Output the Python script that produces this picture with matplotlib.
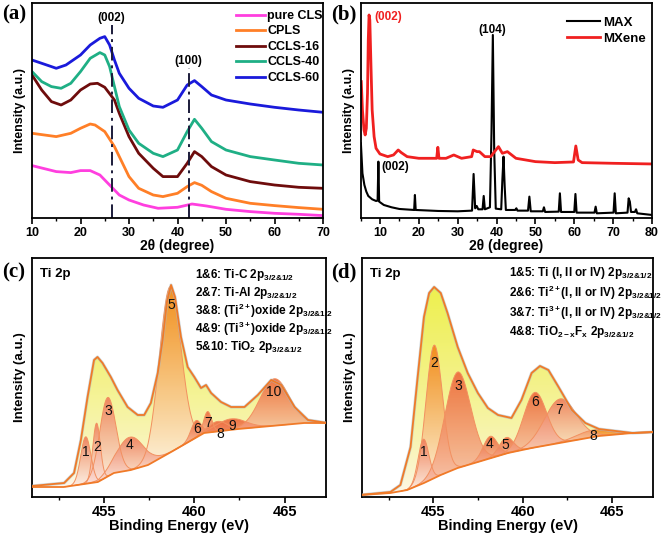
import numpy as np
import matplotlib
matplotlib.use("Agg")
import matplotlib.pyplot as plt
from matplotlib.patches import Polygon
from matplotlib.colors import to_rgba
from matplotlib.ticker import MultipleLocator
from matplotlib.mathtext import MathTextParser

plt.rcParams['font.family'] = ['Liberation Sans', 'DejaVu Sans']
plt.rcParams['font.weight'] = 'bold'
plt.rcParams['axes.labelweight'] = 'bold'
plt.rcParams['mathtext.fontset'] = 'custom'
plt.rcParams['mathtext.rm'] = 'Liberation Sans:bold'
plt.rcParams['mathtext.bf'] = 'Liberation Sans:bold'
plt.rcParams['mathtext.it'] = 'Liberation Sans:bold'
plt.rcParams['mathtext.default'] = 'rm'

# pick an ampersand form that mathtext accepts
_p = MathTextParser("agg")
AMP = "&"
for cand in [r"\&", "&", r"\text{&}", r"\mathrm{&}"]:
    try:
        _p.parse("$_{3/2" + cand + "1/2}$", 100)
        AMP = cand
        break
    except Exception:
        continue
SUB = "$_{3/2" + AMP + "1/2}$"

# ---------------- (a) XRD of the CLS samples ----------------
a_names = ["pure CLS", "CPLS", "CCLS-16", "CCLS-40", "CCLS-60"]
a_colors = ["#FF3FDF", "#FF7F27", "#6E0C0C", "#1FAF85", "#1A1ADB"]
a_x = {
    "pure CLS": [10, 15, 18, 20, 22, 24, 26, 28, 30, 33, 36, 40, 43, 46, 50, 55, 60, 65, 70],
    "CPLS": [10, 15, 18, 20, 22, 23, 25, 27, 28, 30, 32, 35, 37, 40, 42, 43.5, 45, 47, 50, 55, 60, 65, 70],
    "CCLS-16": [10, 12, 14, 16, 18, 20, 22, 23.5, 25, 27, 28, 30, 32, 35, 37, 40, 42, 43.5, 45, 47, 50, 55, 60, 65, 70],
    "CCLS-40": [10, 12, 14, 16, 18, 20, 22, 24, 25, 26, 27, 28, 30, 32, 35, 37, 40, 42, 43.5, 45, 47, 50, 55, 60, 65, 70],
    "CCLS-60": [10, 12, 14, 15, 17, 20, 22, 24, 25, 26, 27, 28, 30, 32, 35, 37, 40, 42, 43.5, 45, 47, 50, 55, 60, 65, 70],
}
a_y = {
    "pure CLS": [52.7, 46.7, 45.7, 47.7, 47.7, 43.3, 33.3, 23.3, 18.3, 13.3, 10, 11, 14.3, 12.3, 9, 6.7, 5, 4, 2.7],
    "CPLS": [85, 81.7, 85, 90, 94.3, 93.3, 86.7, 71.7, 61.7, 41.7, 30, 23.3, 21.7, 25, 31.7, 35.7, 33, 26.7, 20, 15, 12.7, 10.7, 9],
    "CCLS-16": [143.3, 128.3, 116.7, 113.3, 118.3, 128.3, 134.3, 135, 131, 118.3, 105, 81.7, 65, 50, 41.7, 41.7, 55, 66.7, 61.7, 51.7, 43.3, 36.7, 33.3, 31, 30],
    "CCLS-40": [146.7, 136.7, 131.7, 130, 135, 146.7, 160, 165.7, 163.3, 151.7, 131.7, 111.7, 88.3, 75, 65, 61.7, 68.3, 86.7, 99, 90, 76.7, 68.3, 61.7, 58.3, 55, 53.3],
    "CCLS-60": [158.3, 155, 151.7, 150, 153.3, 163.3, 173.3, 180, 181.7, 173.3, 158.3, 145, 130, 120, 112.3, 111, 118.3, 133.3, 137.7, 131.7, 123.3, 118.3, 114.3, 111, 108.3, 106],
}
a_peaks = ["(002)", "(100)"]
a_peak_x = [26.4, 42.3]
a_peak_top = [193, 150]
a_peak_label_y = [200, 157]

# ---------------- (b) XRD of MAX / MXene ----------------
max_x = [5.1, 5.5, 6.0, 6.5, 7.0, 8.0, 9.0, 9.4, 9.6, 9.8, 11, 13, 15, 18.8, 19.0, 19.2, 25, 30,
         33.7, 34.1, 34.5, 34.9, 35.3, 36.4, 36.7, 37.0, 38.3, 38.7, 39.05, 39.4, 39.8, 41.2, 41.5,
         41.8, 42.1, 42.4, 44.8, 45.1, 45.4, 48.1, 48.45, 48.8, 51.9, 52.2, 52.5, 56.0, 56.3, 56.6,
         60.0, 60.3, 60.6, 65.2, 65.5, 65.8, 70.1, 70.4, 70.7, 73.7, 74.0, 74.3, 74.6, 75.6, 75.9, 76.2, 80]
max_y = [430, 520, 555, 575, 588, 598, 603, 602, 485, 605, 615, 622, 627, 630, 585, 630, 633, 634,
         632, 522, 625, 618, 628, 628, 588, 628, 622, 400, 105, 450, 626, 628, 540,
         470, 560, 630, 630, 625, 632, 632, 590, 634, 634, 622, 636, 635, 580, 636,
         636, 582, 638, 638, 620, 640, 638, 580, 640, 638, 595, 605, 636, 636, 628, 640, 645]
mx_x = [5.2, 5.5, 5.9, 6.2, 6.5, 6.8, 7.0, 7.2, 7.4, 7.7, 8.0, 8.5, 9.0, 10, 12, 13.5, 14.7, 15.5, 17,
        20, 24.6, 24.9, 25.2, 27, 29, 31, 33.6, 34.0, 35.0, 35.6, 37, 38.5, 40.5, 41.5, 42.8, 45, 50,
        55, 59.8, 60.4, 61.0, 62, 70, 80]
mx_y = [245, 330, 390, 405, 385, 280, 120, 45, 60, 200, 330, 410, 445, 462, 470, 465, 450, 458, 470,
        475, 475, 442, 475, 475, 465, 475, 470, 450, 455, 455, 470, 470, 440, 460, 455, 475, 485,
        488, 486, 438, 480, 488, 490, 492]

# ---------------- (c) Ti 2p of MAX ----------------
c_bg_e = [451.0, 452.76, 454.65, 455.54, 456.48, 457.43, 458.71, 460.54, 462.43, 464.26, 466.09, 467.4]
c_bg_v = [10, 10, 15, 24, 27, 32, 45, 64, 68, 71, 74, 74]
c_env_e = [451.0, 452.78, 453.33, 453.71, 454.08, 454.44, 454.63, 454.91, 455.37, 455.74, 456.3, 456.86,
           457.22, 457.59, 457.97, 458.24, 458.48, 458.71, 458.93, 459.26, 459.63, 460.0, 460.37, 460.65,
           460.93, 461.48, 462.04, 462.78, 463.52, 464.26, 464.82, 465.56, 466.3, 467.4]
c_env_v = [11, 14, 24, 57, 100, 137, 140, 134, 120, 107, 90, 82, 82, 94, 124, 157, 195, 212, 200, 160,
           130, 120, 109, 112, 104, 95, 90, 90, 102, 117, 112, 90, 77, 74]
c_center = [453.98, 454.58, 455.19, 456.43, 458.65, 460.09, 460.74, 461.3, 462.04, 464.44]
c_height = [47, 59, 79, 33, 166, 17, 21, 10, 11, 47]
c_sigma = [0.28, 0.21, 0.45, 0.75, 0.6, 0.28, 0.22, 0.5, 0.8, 0.8]
c_fill = ["s", "s", "s", "s", "o", "r", "r", "r", "r", "r"]
c_lab_e = [453.98, 454.63, 455.22, 456.43, 458.7, 460.15, 460.78, 461.43, 462.08, 464.41]
c_lab_v = [45, 50, 86, 52, 192, 68, 74, 63, 71, 105]
c_notes = ["1&6: Ti-C 2p" + SUB,
           "2&7: Ti-Al 2p" + SUB,
           "3&8: (Ti$^{2+}$)oxide 2p" + SUB,
           "4&9: (Ti$^{3+}$)oxide 2p" + SUB,
           "5&10: TiO$_2$ 2p" + SUB]
c_note_y = [0.929, 0.855, 0.78, 0.703, 0.627]

# ---------------- (d) Ti 2p of MXene ----------------
d_bg_e = [450.89, 452.59, 453.53, 454.47, 455.41, 456.36, 457.3, 458.24, 459.18, 460.5, 462.38, 464.27, 466.15, 467.4]
d_bg_v = [2, 4, 7, 14, 22, 29, 34, 39, 44, 49, 55, 61, 64, 65]
d_env_e = [450.89, 452.59, 453.15, 453.72, 454.1, 454.47, 454.76, 455.04, 455.41, 455.79, 456.36, 456.92,
           457.49, 458.05, 458.62, 459.37, 459.93, 460.5, 460.97, 461.44, 462.01, 462.76, 463.51, 464.27,
           466.15, 467.4]
d_env_v = [2, 5, 12, 50, 117, 180, 204, 210, 204, 184, 150, 124, 104, 89, 82, 79, 97, 124, 131, 127,
           110, 87, 74, 68, 64, 65]
d_center = [454.44, 455.04, 456.36, 458.18, 459.08, 460.69, 462.1, 463.89]
d_height = [44, 133, 96, 22, 16, 55, 44, 7]
d_sigma = [0.3, 0.46, 0.72, 0.4, 0.4, 0.64, 0.88, 0.9]
d_fill = ["s", "o", "r", "r", "r", "r", "s", "o"]
d_lab_e = [454.47, 455.04, 456.4, 458.15, 459.03, 460.69, 462.05, 463.98]
d_lab_v = [45, 134, 111, 53, 52, 95, 87, 61]
d_notes = ["1&5: Ti (I, II or IV) 2p" + SUB,
           "2&6: Ti$^{2+}$(I, II or IV) 2p" + SUB,
           "3&7: Ti$^{3+}$(I, II or IV) 2p" + SUB,
           "4&8: TiO$_{2-x}$F$_x$ 2p" + SUB]
d_note_y = [0.936, 0.852, 0.769, 0.692]

# gradient specs: top colour, bottom colour, top alpha, bottom alpha, gamma
fills = {"o": ("#F28E1E", "#FFF7EC", 1.0, 0.75, 0.8),
         "s": ("#EE7A58", "#FCDCDC", 0.9, 0.3, 0.8),
         "r": ("#EE6E3E", "#F6B09A", 0.95, 0.55, 0.8)}
env_fill = ("#EEF04E", "#FFF3EA", 1.0, 0.6, 0.55)
line_or = "#F07A28"


def grad_fill(ax, xs_top, ys_top, xs_bot, ys_bot, spec, z):
    c_top, c_bot, a_top, a_bot, gam = spec
    verts = np.column_stack([np.r_[xs_top, xs_bot[::-1]], np.r_[ys_top, ys_bot[::-1]]])
    poly = Polygon(verts, closed=True, facecolor="none", edgecolor="none")
    ax.add_patch(poly)
    t = (np.linspace(0, 1, 200) ** gam)[:, None]
    ct = np.array(to_rgba(c_top, a_top))
    cb = np.array(to_rgba(c_bot, a_bot))
    img = (cb + (ct - cb) * t)[:, None, :]
    im = ax.imshow(img, extent=[verts[:, 0].min(), verts[:, 0].max(), np.min(ys_bot), np.max(ys_top)],
                   origin="lower", aspect="auto", zorder=z, interpolation="bilinear")
    im.set_clip_path(poly)


def xps_panel(ax, bg_e, bg_v, env_e, env_v, centers, heights, sigmas, kinds, lab_e, lab_v):
    bg_e = np.array(bg_e); bg_v = np.array(bg_v)
    env_e = np.array(env_e); env_v = np.array(env_v)
    grad_fill(ax, env_e, env_v, bg_e, bg_v, env_fill, 1)
    order = np.argsort([k != "o" for k in kinds], kind="stable")
    for i in order:
        c, h, s = centers[i], heights[i], sigmas[i]
        e = np.linspace(c - 4 * s, c + 4 * s, 160)
        base = np.interp(e, bg_e, bg_v)
        top = base + h * np.exp(-0.5 * ((e - c) / s) ** 2)
        grad_fill(ax, e, top, e, base, fills[kinds[i]], 2)
        ax.plot(e, top, color="#F29060", lw=0.7, zorder=3)
    ax.plot(env_e, env_v, color="#A9BCC6", lw=2.2, alpha=0.6, zorder=3.5)
    ax.plot(env_e, env_v, color=line_or, lw=1.3, zorder=4)
    ax.plot(bg_e, bg_v, color=line_or, lw=1.3, zorder=4)
    for k, (le, lv) in enumerate(zip(lab_e, lab_v)):
        ax.text(le, lv, str(k + 1), ha="center", va="center", fontsize=10,
                fontweight="normal", color="#111111", zorder=5)
    ax.set_xlim(451.0, 467.3)
    ax.set_ylim(0, 239)
    ax.xaxis.set_major_locator(MultipleLocator(5))
    ax.xaxis.set_minor_locator(MultipleLocator(2.5))
    ax.set_xlabel("Binding Energy (eV)", fontsize=10.5, labelpad=0)
    ax.set_ylabel("Intensity (a.u.)", fontsize=9.5, labelpad=4)
    ax.tick_params(axis="x", labelsize=10.5, pad=2)
    ax.text(0.028, 0.933, "Ti 2p", transform=ax.transAxes, fontsize=9.5, va="center", ha="left")


def style(ax):
    for sp in ax.spines.values():
        sp.set_linewidth(1.3)
    ax.tick_params(axis="y", left=False, labelleft=False)
    ax.tick_params(axis="x", which="major", direction="out", length=4, width=1.2)
    ax.tick_params(axis="x", which="minor", direction="out", length=2.5, width=1.0)


W, H = 661, 534
fig = plt.figure(figsize=(W / 100, H / 100), dpi=100)

# (a)
ax = fig.add_axes([32 / W, 1 - 218.3 / H, 291 / W, 215 / H])
style(ax)
for name, col in zip(a_names, a_colors):
    ax.plot(a_x[name], a_y[name], color=col, lw=2.0, label=name)
ax.vlines(a_peak_x, 0, a_peak_top, colors="#1B1B3A", linestyles=(0, (7, 2.5, 1.5, 2.5)), lw=1.4)
for lab, px, py in zip(a_peaks, a_peak_x, a_peak_label_y):
    ax.text(px, py, lab, ha="center", va="center", fontsize=8.5)
ax.set_xlim(10, 70)
ax.set_ylim(0, 215)
ax.xaxis.set_major_locator(MultipleLocator(10))
ax.xaxis.set_minor_locator(MultipleLocator(5))
ax.tick_params(axis="x", labelsize=9, pad=2)
ax.set_xlabel("2θ (degree)", fontsize=10, labelpad=0)
ax.set_ylabel("Intensity (a.u.)", fontsize=9, labelpad=4)
ax.legend(loc="upper right", bbox_to_anchor=(1.005, 0.978), frameon=False, fontsize=9,
          handlelength=2.3, handletextpad=0.2, labelspacing=0.28, borderpad=0.15, borderaxespad=0)

# (b)
ax = fig.add_axes([360.5 / W, 1 - 218.3 / H, 291.5 / W, 215 / H])
style(ax)
ax.plot(max_x, (655 - np.array(max_y)) / 3, color="black", lw=1.5, label="MAX")
ax.plot(mx_x, (655 - np.array(mx_y)) / 3, color="#F02020", lw=2.0, label="MXene")
ax.text(8.6, 201.5, "(002)", color="#F02020", ha="left", va="center", fontsize=8.5)
ax.text(39.0, 188.3, "(104)", color="black", ha="center", va="center", fontsize=8.5)
ax.text(10.3, 51.7, "(002)", color="black", ha="left", va="center", fontsize=8.5)
ax.set_xlim(5, 80)
ax.set_ylim(0, 215)
ax.xaxis.set_major_locator(MultipleLocator(10))
ax.xaxis.set_minor_locator(MultipleLocator(5))
ax.tick_params(axis="x", labelsize=9, pad=2)
ax.set_xlabel("2θ (degree)", fontsize=10, labelpad=0)
ax.set_ylabel("Intensity (a.u.)", fontsize=9, labelpad=4)
ax.legend(loc="upper right", bbox_to_anchor=(0.985, 0.948), frameon=False, fontsize=9.5,
          handlelength=2.5, handletextpad=0.2, labelspacing=0.3, borderpad=0.15, borderaxespad=0)

# (c)
ax = fig.add_axes([32 / W, 1 - 497 / H, 294 / W, 239 / H])
style(ax)
xps_panel(ax, c_bg_e, c_bg_v, c_env_e, c_env_v, c_center, c_height, c_sigma, c_fill, c_lab_e, c_lab_v)
for txt, ty in zip(c_notes, c_note_y):
    ax.text(0.555, ty, txt, transform=ax.transAxes, fontsize=8.5, ha="left", va="center", zorder=6)

# (d)
ax = fig.add_axes([362 / W, 1 - 497 / H, 291 / W, 239 / H])
style(ax)
xps_panel(ax, d_bg_e, d_bg_v, d_env_e, d_env_v, d_center, d_height, d_sigma, d_fill, d_lab_e, d_lab_v)
for txt, ty in zip(d_notes, d_note_y):
    ax.text(0.505, ty, txt, transform=ax.transAxes, fontsize=8.5, ha="left", va="center", zorder=6)

for lab, px, py in [("(a)", 2, 14), ("(b)", 331, 14), ("(c)", 2, 272), ("(d)", 331, 272)]:
    fig.text(px / W, 1 - py / H, lab, family="Liberation Serif", fontweight="bold", fontsize=15,
             ha="left", va="center")

fig.savefig("out.png", dpi=100)
